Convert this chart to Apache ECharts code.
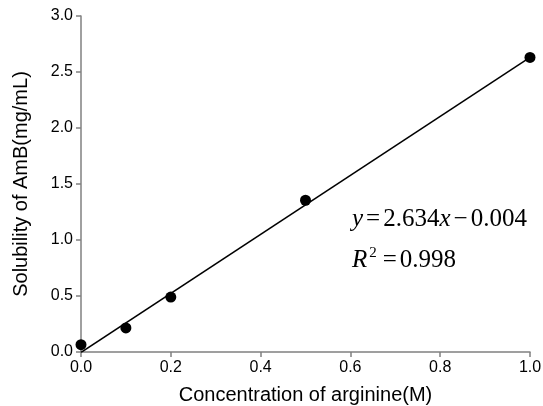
<!DOCTYPE html>
<html>
<head>
<meta charset="utf-8">
<script src="https://cdn.jsdelivr.net/npm/echarts@6/dist/echarts.min.js"></script>
<style>
  html, body { margin: 0; padding: 0; background: #fff; }
  #chart { width: 543px; height: 406px; }
</style>
</head>
<body>
<div id="chart"></div>
<script>
// measured points
const concentration = [0, 0.1, 0.2, 0.5, 1.0]
const solubility = [0.065, 0.215, 0.49, 1.355, 2.63]
// fitted line end points
const fitX = [0, 1.0]
const fitY = [-0.004, 2.63]
const xTicks = [0, 0.2, 0.4, 0.6, 0.8, 1.0]
const yTicks = [0, 0.5, 1.0, 1.5, 2.0, 2.5, 3.0]

const axisColor = '#808080'
const chart = echarts.init(document.getElementById('chart'))

const axisCommon = {
  axisLine: { show: true, onZero: false, lineStyle: { color: axisColor, width: 1.5 } },
  axisTick: { show: true, inside: false, length: 5, lineStyle: { color: axisColor, width: 1.5 } },
  axisLabel: { color: '#000', fontFamily: 'Liberation Sans', fontSize: 16, formatter: v => v.toFixed(1) },
  splitLine: { show: false },
  nameLocation: 'middle',
  nameTextStyle: { color: '#000', fontFamily: 'Liberation Sans', fontSize: 20 }
}

const serif = { fontFamily: 'Liberation Serif', fontSize: 25 }

chart.setOption({
  animation: false,
  grid: { left: 81, right: 13, top: 16, bottom: 54, outerBoundsMode: 'none' },
  xAxis: Object.assign({}, axisCommon, {
    type: 'value',
    min: xTicks[0],
    max: xTicks[xTicks.length - 1],
    interval: 0.2,
    name: 'Concentration of arginine(M)',
    nameGap: 33,
    axisLabel: Object.assign({}, axisCommon.axisLabel, { margin: 8 })
  }),
  yAxis: Object.assign({}, axisCommon, {
    type: 'value',
    min: yTicks[0],
    max: yTicks[yTicks.length - 1],
    interval: 0.5,
    name: 'Solubility of AmB(mg/mL)',
    nameGap: 50,
    axisLabel: Object.assign({}, axisCommon.axisLabel, { margin: 8 })
  }),
  series: [
    {
      type: 'line',
      data: fitX.map((x, i) => [x, fitY[i]]),
      showSymbol: false,
      lineStyle: { color: '#000', width: 1.5 },
      z: 2
    },
    {
      type: 'scatter',
      data: concentration.map((x, i) => [x, solubility[i]]),
      symbolSize: 11,
      itemStyle: { color: '#000', opacity: 1 },
      z: 3
    }
  ],
  graphic: [
    {
      type: 'text',
      left: 352,
      top: 207,
      style: {
        text: '{i|y}{o|=}{n|2.634}{i|x}{o|−}{n|0.004}',
        fill: '#000',
        rich: {
          i: Object.assign({ fontStyle: 'italic' }, serif),
          n: serif,
          o: Object.assign({ padding: [0, 3, 0, 3] }, serif)
        }
      }
    },
    {
      type: 'text',
      left: 352,
      top: 246,
      style: {
        text: '{i|R}{s|2}{o|=}{n|0.998}',
        fill: '#000',
        rich: {
          i: Object.assign({ fontStyle: 'italic' }, serif),
          n: serif,
          o: Object.assign({ padding: [0, 3, 0, 6] }, serif),
          s: { fontFamily: 'Liberation Serif', fontSize: 15, padding: [0, 0, 14, 2] }
        }
      }
    }
  ]
})
</script>
</body>
</html>
